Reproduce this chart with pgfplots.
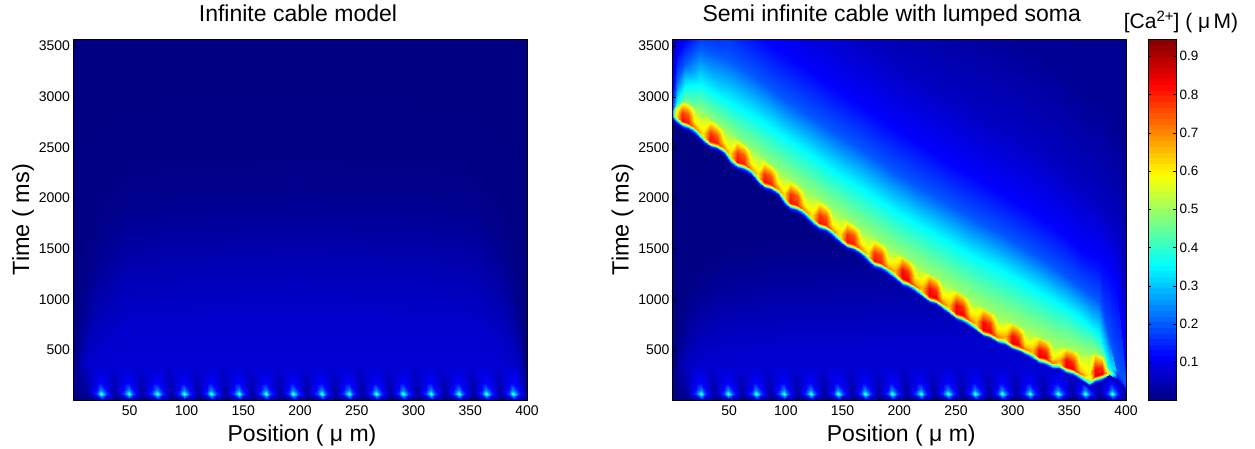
\documentclass[border=0pt]{standalone}
\usepackage{pgfplots}
\usepackage{pgfplotstable}
\pgfplotsset{compat=1.18}
\usepackage{fontspec}
\setmainfont{Liberation Sans}
% bottom row of small calcium spots (both panels): x, t, c
\pgfplotstableread{
x t c
0 0 .002
0 40 .002
0 65 .003
0 100 .005
0 170 .008
0 320 .012
13 0 .005
13 40 .012
13 65 .02
13 100 .03
13 170 .045
13 320 .06
21 0 .01
21 40 .10
21 65 .18
21 100 .13
21 170 .10
21 320 .08
25 0 .02
25 40 .26
25 65 .42
25 100 .24
25 170 .12
25 320 .082
29 0 .01
29 40 .10
29 65 .18
29 100 .13
29 170 .10
29 320 .08
37 0 .005
37 40 .012
37 65 .02
37 100 .03
37 170 .05
37 320 .075
45 0 .01
45 40 .10
45 65 .18
45 100 .13
45 170 .10
45 320 .08
49 0 .02
49 40 .26
49 65 .42
49 100 .24
49 170 .12
49 320 .082
53 0 .01
53 40 .10
53 65 .18
53 100 .13
53 170 .10
53 320 .08
61 0 .005
61 40 .012
61 65 .02
61 100 .03
61 170 .05
61 320 .075
70 0 .01
70 40 .10
70 65 .18
70 100 .13
70 170 .10
70 320 .08
74 0 .02
74 40 .26
74 65 .42
74 100 .24
74 170 .12
74 320 .082
78 0 .01
78 40 .10
78 65 .18
78 100 .13
78 170 .10
78 320 .08
86 0 .005
86 40 .012
86 65 .02
86 100 .03
86 170 .05
86 320 .075
94 0 .01
94 40 .10
94 65 .18
94 100 .13
94 170 .10
94 320 .08
98 0 .02
98 40 .26
98 65 .42
98 100 .24
98 170 .12
98 320 .082
102 0 .01
102 40 .10
102 65 .18
102 100 .13
102 170 .10
102 320 .08
110 0 .005
110 40 .012
110 65 .02
110 100 .03
110 170 .05
110 320 .075
118 0 .01
118 40 .10
118 65 .18
118 100 .13
118 170 .10
118 320 .08
122 0 .02
122 40 .26
122 65 .42
122 100 .24
122 170 .12
122 320 .082
126 0 .01
126 40 .10
126 65 .18
126 100 .13
126 170 .10
126 320 .08
134 0 .005
134 40 .012
134 65 .02
134 100 .03
134 170 .05
134 320 .075
142 0 .01
142 40 .10
142 65 .18
142 100 .13
142 170 .10
142 320 .08
146 0 .02
146 40 .26
146 65 .42
146 100 .24
146 170 .12
146 320 .082
150 0 .01
150 40 .10
150 65 .18
150 100 .13
150 170 .10
150 320 .08
158 0 .005
158 40 .012
158 65 .02
158 100 .03
158 170 .05
158 320 .075
166 0 .01
166 40 .10
166 65 .18
166 100 .13
166 170 .10
166 320 .08
170 0 .02
170 40 .26
170 65 .42
170 100 .24
170 170 .12
170 320 .082
174 0 .01
174 40 .10
174 65 .18
174 100 .13
174 170 .10
174 320 .08
182 0 .005
182 40 .012
182 65 .02
182 100 .03
182 170 .05
182 320 .075
190 0 .01
190 40 .10
190 65 .18
190 100 .13
190 170 .10
190 320 .08
194 0 .02
194 40 .26
194 65 .42
194 100 .24
194 170 .12
194 320 .082
198 0 .01
198 40 .10
198 65 .18
198 100 .13
198 170 .10
198 320 .08
206 0 .005
206 40 .012
206 65 .02
206 100 .03
206 170 .05
206 320 .075
215 0 .01
215 40 .10
215 65 .18
215 100 .13
215 170 .10
215 320 .08
219 0 .02
219 40 .26
219 65 .42
219 100 .24
219 170 .12
219 320 .082
223 0 .01
223 40 .10
223 65 .18
223 100 .13
223 170 .10
223 320 .08
231 0 .005
231 40 .012
231 65 .02
231 100 .03
231 170 .05
231 320 .075
239 0 .01
239 40 .10
239 65 .18
239 100 .13
239 170 .10
239 320 .08
243 0 .02
243 40 .26
243 65 .42
243 100 .24
243 170 .12
243 320 .082
247 0 .01
247 40 .10
247 65 .18
247 100 .13
247 170 .10
247 320 .08
255 0 .005
255 40 .012
255 65 .02
255 100 .03
255 170 .05
255 320 .075
263 0 .01
263 40 .10
263 65 .18
263 100 .13
263 170 .10
263 320 .08
267 0 .02
267 40 .26
267 65 .42
267 100 .24
267 170 .12
267 320 .082
271 0 .01
271 40 .10
271 65 .18
271 100 .13
271 170 .10
271 320 .08
279 0 .005
279 40 .012
279 65 .02
279 100 .03
279 170 .05
279 320 .075
287 0 .01
287 40 .10
287 65 .18
287 100 .13
287 170 .10
287 320 .08
291 0 .02
291 40 .26
291 65 .42
291 100 .24
291 170 .12
291 320 .082
295 0 .01
295 40 .10
295 65 .18
295 100 .13
295 170 .10
295 320 .08
303 0 .005
303 40 .012
303 65 .02
303 100 .03
303 170 .05
303 320 .075
311 0 .01
311 40 .10
311 65 .18
311 100 .13
311 170 .10
311 320 .08
315 0 .02
315 40 .26
315 65 .42
315 100 .24
315 170 .12
315 320 .082
319 0 .01
319 40 .10
319 65 .18
319 100 .13
319 170 .10
319 320 .08
328 0 .005
328 40 .012
328 65 .02
328 100 .03
328 170 .05
328 320 .075
336 0 .01
336 40 .10
336 65 .18
336 100 .13
336 170 .10
336 320 .08
340 0 .02
340 40 .26
340 65 .42
340 100 .24
340 170 .12
340 320 .082
344 0 .01
344 40 .10
344 65 .18
344 100 .13
344 170 .10
344 320 .08
352 0 .005
352 40 .012
352 65 .02
352 100 .03
352 170 .05
352 320 .075
360 0 .01
360 40 .10
360 65 .18
360 100 .13
360 170 .10
360 320 .08
364 0 .02
364 40 .26
364 65 .42
364 100 .24
364 170 .12
364 320 .082
368 0 .01
368 40 .10
368 65 .18
368 100 .13
368 170 .10
368 320 .08
376 0 .005
376 40 .012
376 65 .02
376 100 .03
376 170 .05
376 320 .075
384 0 .01
384 40 .10
384 65 .18
384 100 .13
384 170 .10
384 320 .08
388 0 .02
388 40 .26
388 65 .42
388 100 .24
388 170 .12
388 320 .082
392 0 .01
392 40 .10
392 65 .18
392 100 .13
392 170 .10
392 320 .07
400 0 .002
400 40 .002
400 65 .003
400 100 .005
400 170 .008
400 320 .012
}\spots
% faint arcs, left panel
\pgfplotstableread{
x t c
0 0 .085
0 10 .07
0 20 .05
0 30 .03
0 50 .012
0 100 .004
0 3600 .002
6 0 .085
6 200 .07
6 350 .05
6 500 .03
6 800 .012
6 1200 .004
6 3600 .002
12 0 .085
12 350 .07
12 600 .05
12 850 .03
12 1200 .012
12 1700 .004
12 3600 .002
24 0 .085
24 550 .07
24 900 .05
24 1200 .03
24 1600 .012
24 2100 .004
24 3600 .002
48 0 .085
48 750 .07
48 1200 .05
48 1550 .03
48 1950 .012
48 2400 .004
48 3600 .002
96 0 .085
96 800 .07
96 1300 .05
96 1650 .03
96 2050 .012
96 2500 .004
96 3600 .002
200 0 .085
200 850 .07
200 1350 .05
200 1700 .03
200 2100 .012
200 2550 .004
200 3600 .002
304 0 .085
304 800 .07
304 1300 .05
304 1650 .03
304 2050 .012
304 2500 .004
304 3600 .002
352 0 .085
352 750 .07
352 1200 .05
352 1550 .03
352 1950 .012
352 2400 .004
352 3600 .002
376 0 .085
376 550 .07
376 900 .05
376 1200 .03
376 1600 .012
376 2100 .004
376 3600 .002
388 0 .085
388 350 .07
388 600 .05
388 850 .03
388 1200 .012
388 1700 .004
388 3600 .002
394 0 .085
394 200 .07
394 350 .05
394 500 .03
394 800 .012
394 1200 .004
394 3600 .002
400 0 .085
400 10 .07
400 20 .05
400 30 .03
400 50 .012
400 100 .004
400 3600 .002
}\arcsL
% faint arcs, right panel
\pgfplotstableread{
x t c
0 0 .085
0 10 .07
0 20 .05
0 30 .03
0 50 .012
0 100 .004
0 3600 .002
6 0 .085
6 200 .07
6 300 .05
6 400 .03
6 600 .012
6 900 .004
6 3600 .002
12 0 .085
12 300 .07
12 450 .05
12 650 .03
12 900 .012
12 1200 .004
12 3600 .002
24 0 .085
24 400 .07
24 650 .05
24 900 .03
24 1150 .012
24 1400 .004
24 3600 .002
48 0 .085
48 500 .07
48 800 .05
48 1050 .03
48 1350 .012
48 1600 .004
48 3600 .002
96 0 .085
96 550 .07
96 850 .05
96 1150 .03
96 1450 .012
96 1700 .004
96 3600 .002
200 0 .085
200 600 .07
200 900 .05
200 1200 .03
200 1500 .012
200 1750 .004
200 3600 .002
400 0 .085
400 600 .07
400 900 .05
400 1200 .03
400 1500 .012
400 1750 .004
400 3600 .002
}\arcsR
% wake behind the wave front, right panel
\pgfplotstableread{
x t c
0 2780 .53
0 2800 .354
0 2900 .2
0 3100 .118
0 3400 .06
0 3800 .02
0 6000 .005
4 2780 .53
4 2950 .354
4 3170 .2
4 3435 .118
4 3600 .06
4 4000 .02
4 6000 .005
11 2880 .53
11 3110 .354
11 3330 .2
11 3560 .118
11 3900 .06
11 4500 .02
11 6000 .005
24 2780 .53
24 3130 .354
24 3480 .2
24 3800 .118
24 4300 .06
24 5200 .02
24 6000 .005
48 2580 .53
48 2960 .354
48 3380 .2
48 3850 .118
48 4500 .06
48 5500 .02
48 6500 .005
72 2370 .53
72 2800 .354
72 3200 .2
72 3650 .118
72 4300 .06
72 5300 .02
72 6500 .005
96 2160 .53
96 2620 .354
96 3000 .2
96 3450 .118
96 4100 .06
96 5100 .02
96 6500 .005
120 1960 .53
120 2430 .354
120 2820 .2
120 3260 .118
120 3900 .06
120 4900 .02
120 6500 .005
144 1770 .53
144 2250 .354
144 2640 .2
144 3080 .118
144 3720 .06
144 4700 .02
144 6500 .005
168 1590 .53
168 2080 .354
168 2470 .2
168 2900 .118
168 3550 .06
168 4500 .02
168 6500 .005
192 1410 .53
192 1900 .354
192 2290 .2
192 2720 .118
192 3370 .06
192 4300 .02
192 6500 .005
216 1240 .53
216 1740 .354
216 2120 .2
216 2550 .118
216 3200 .06
216 4150 .02
216 6500 .005
240 1070 .53
240 1590 .354
240 1960 .2
240 2380 .118
240 3040 .06
240 4000 .02
240 6500 .005
264 900 .53
264 1430 .354
264 1800 .2
264 2220 .118
264 2880 .06
264 3850 .02
264 6500 .005
290 740 .53
290 1290 .354
290 1640 .2
290 2050 .118
290 2720 .06
290 3700 .02
290 6500 .005
314 600 .53
314 1130 .354
314 1480 .2
314 1880 .118
314 2550 .06
314 3500 .02
314 6500 .005
338 480 .53
338 970 .354
338 1300 .2
338 1700 .118
338 2350 .06
338 3300 .02
338 6500 .005
362 400 .53
362 800 .354
362 1100 .2
362 1480 .118
362 2100 .06
362 3050 .02
362 6500 .005
376 370 .53
376 650 .354
376 980 .2
376 1400 .118
376 1950 .06
376 2950 .02
376 6500 .005
385 260 .53
385 320 .354
385 620 .2
385 1300 .118
385 1800 .06
385 2800 .02
385 6500 .005
392 200 .53
392 205 .354
392 290 .2
392 1120 .118
392 1700 .06
392 2600 .02
392 6500 .005
400 100 .53
400 103 .354
400 106 .2
400 300 .118
400 1400 .06
400 2500 .02
400 6500 .005
}\wake
% wave front with its hot spots, right panel
\pgfplotstableread{
x t c
0 2760 .02
0 2775 .08
0 2790 .15
0 2800 .25
0 2820 .3
0 2850 .3
2 2732 .03
2 2762 .14
2 2787 .4
2 2812 .55
2 2862 .55
2 2900 .42
8 2682 .03
8 2712 .18
8 2737 .58
8 2762 .82
8 2842 .78
8 2950 .56
14 2662 .03
14 2692 .18
14 2717 .58
14 2742 .80
14 2827 .74
14 2930 .57
20 2612 .03
20 2642 .16
20 2667 .42
20 2692 .70
20 2752 .6
20 2877 .50
27 2530 .03
27 2560 .16
27 2585 .42
27 2610 .6
27 2640 .62
27 2825 .50
33 2480 .03
33 2510 .18
33 2535 .58
33 2560 .82
33 2640 .78
33 2775 .56
39 2460 .03
39 2490 .18
39 2515 .58
39 2540 .80
39 2625 .74
39 2725 .57
45 2410 .03
45 2440 .16
45 2465 .42
45 2490 .70
45 2550 .6
45 2675 .50
51 2330 .03
51 2360 .16
51 2385 .42
51 2410 .6
51 2440 .62
51 2625 .50
57 2280 .03
57 2310 .18
57 2335 .58
57 2360 .82
57 2440 .78
57 2575 .56
63 2260 .03
63 2290 .18
63 2315 .58
63 2340 .80
63 2425 .74
63 2525 .57
69 2210 .03
69 2240 .16
69 2265 .42
69 2290 .70
69 2350 .6
69 2475 .50
75 2125 .03
75 2155 .16
75 2180 .42
75 2205 .6
75 2235 .62
75 2420 .50
81 2075 .03
81 2105 .18
81 2130 .58
81 2155 .82
81 2235 .78
81 2370 .56
87 2055 .03
87 2085 .18
87 2110 .58
87 2135 .80
87 2220 .74
87 2320 .57
93 2005 .03
93 2035 .16
93 2060 .42
93 2085 .70
93 2145 .6
93 2270 .50
98 1925 .03
98 1955 .16
98 1980 .42
98 2005 .6
98 2035 .62
98 2220 .50
104 1875 .03
104 1905 .18
104 1930 .58
104 1955 .82
104 2035 .78
104 2170 .56
110 1855 .03
110 1885 .18
110 1910 .58
110 1935 .80
110 2020 .74
110 2120 .57
116 1805 .03
116 1835 .16
116 1860 .42
116 1885 .70
116 1945 .6
116 2070 .50
123 1725 .03
123 1755 .16
123 1780 .42
123 1805 .6
123 1835 .62
123 2020 .50
129 1675 .03
129 1705 .18
129 1730 .58
129 1755 .82
129 1835 .78
129 1970 .56
135 1655 .03
135 1685 .18
135 1710 .58
135 1735 .80
135 1820 .74
135 1920 .57
141 1605 .03
141 1635 .16
141 1660 .42
141 1685 .70
141 1745 .6
141 1870 .50
148 1535 .03
148 1565 .16
148 1590 .42
148 1615 .6
148 1645 .62
148 1825 .50
154 1485 .03
154 1515 .18
154 1540 .58
154 1565 .82
154 1645 .78
154 1775 .56
160 1465 .03
160 1495 .18
160 1520 .58
160 1545 .80
160 1630 .74
160 1725 .57
166 1415 .03
166 1445 .16
166 1470 .42
166 1495 .70
166 1555 .6
166 1680 .50
172 1350 .03
172 1380 .16
172 1405 .42
172 1430 .6
172 1460 .62
172 1635 .50
178 1300 .03
178 1330 .18
178 1355 .58
178 1380 .82
178 1460 .78
178 1590 .56
184 1280 .03
184 1310 .18
184 1335 .58
184 1360 .80
184 1445 .74
184 1545 .57
190 1230 .03
190 1260 .16
190 1285 .42
190 1310 .70
190 1370 .6
190 1500 .50
196 1175 .03
196 1205 .16
196 1230 .45
196 1255 .64
196 1285 .66
196 1455 .52
202 1125 .03
202 1155 .2
202 1180 .6
202 1205 .84
202 1285 .82
202 1415 .6
208 1105 .03
208 1135 .2
208 1160 .6
208 1185 .84
208 1270 .78
208 1375 .6
214 1055 .03
214 1085 .16
214 1110 .45
214 1135 .72
214 1195 .62
214 1335 .5
220 1000 .03
220 1030 .16
220 1055 .45
220 1080 .64
220 1110 .66
220 1280 .52
226 950 .03
226 980 .2
226 1005 .6
226 1030 .84
226 1110 .82
226 1240 .6
232 930 .03
232 960 .2
232 985 .6
232 1010 .84
232 1095 .78
232 1200 .6
238 880 .03
238 910 .16
238 935 .45
238 960 .72
238 1020 .62
238 1160 .5
244 830 .03
244 860 .16
244 885 .45
244 910 .64
244 940 .66
244 1110 .52
250 780 .03
250 810 .2
250 835 .6
250 860 .84
250 940 .82
250 1070 .6
256 760 .03
256 790 .2
256 815 .6
256 840 .84
256 925 .78
256 1030 .6
262 710 .03
262 740 .16
262 765 .45
262 790 .72
262 850 .62
262 990 .5
268 665 .03
268 695 .16
268 720 .45
268 745 .64
268 775 .66
268 945 .52
274 615 .03
274 645 .2
274 670 .6
274 695 .84
274 775 .82
274 905 .6
280 595 .03
280 625 .2
280 650 .6
280 675 .84
280 760 .78
280 865 .6
286 545 .03
286 575 .16
286 600 .45
286 625 .72
286 685 .62
286 825 .5
293 525 .03
293 555 .16
293 580 .45
293 605 .64
293 635 .66
293 785 .52
299 485 .03
299 515 .2
299 540 .6
299 565 .84
299 635 .82
299 755 .6
305 465 .03
305 495 .2
305 520 .6
305 545 .84
305 620 .78
305 725 .6
311 425 .03
311 455 .16
311 480 .45
311 505 .72
311 545 .62
311 695 .5
317 390 .03
317 420 .16
317 445 .45
317 470 .64
317 500 .66
317 650 .52
323 350 .03
323 380 .2
323 405 .6
323 430 .84
323 500 .82
323 620 .6
329 335 .03
329 365 .2
329 390 .6
329 415 .84
329 485 .78
329 590 .6
335 295 .03
335 325 .16
335 350 .45
335 375 .72
335 410 .62
335 560 .5
341 290 .03
341 320 .16
341 345 .45
341 370 .64
341 400 .66
341 530 .52
347 255 .03
347 285 .2
347 310 .6
347 335 .84
347 400 .82
347 510 .6
353 235 .03
353 265 .2
353 290 .6
353 315 .84
353 385 .78
353 490 .6
359 185 .03
359 215 .16
359 240 .45
359 265 .72
359 310 .62
359 470 .5
367 120 .03
367 150 .14
367 175 .38
367 200 .5
367 250 .6
367 450 .52
373 165 .03
373 195 .2
373 220 .6
373 245 .84
373 310 .82
373 460 .6
379 185 .03
379 215 .2
379 240 .6
379 265 .84
379 330 .78
379 430 .58
385 220 .02
385 250 .12
385 265 .45
385 280 .6
385 300 .45
385 320 .354
392 170 .02
392 190 .05
392 210 .1
392 230 .14
392 260 .18
392 290 .2
400 80 .02
400 88 .03
400 95 .05
400 100 .08
400 105 .12
400 110 .15
}\front
\pgfplotsset{
 heat/.style={surf,shader=interp,mesh/ordering=y varies,forget plot},
 panel/.style={
  scale only axis,view={0}{90},
  xmin=0,xmax=400,ymin=0,ymax=3570,zmin=0,zmax=1,
  xtick={50,100,...,400},ytick={500,1000,...,3500},
  colormap/jet,point meta min=0,point meta max=0.945,
  tick align=inside,major tick length=3pt,tick pos=left,
  tick style={black,line width=0.35pt},
  axis line style={black,line width=0.4pt},
  ticklabel style={font=\fontsize{14}{16}\selectfont},
  /pgf/number format/assume math mode=true,
  /pgf/number format/1000 sep={},
  xticklabel style={yshift=-1.5pt},
  yticklabel style={xshift=0.5pt},
  title style={font=\fontsize{23}{27}\selectfont,at={(axis description cs:0.5,1)},anchor=base,yshift=12pt},
  xlabel style={font=\fontsize{23}{27}\selectfont,at={(axis description cs:0.5,0)},anchor=base,yshift=-41pt,xshift=2pt},
  ylabel style={font=\fontsize{23.5}{27}\selectfont,at={(axis description cs:0,0.5)},anchor=base,rotate=0,yshift=44pt},
  xlabel={Position (\ μ\ m)},ylabel={Time ( ms)},
 },
}
\begin{document}
\begin{tikzpicture}
\path[use as bounding box] (0pt,0pt) rectangle (1255pt,448pt);
\begin{axis}[panel,at={(73pt,47.5pt)},anchor=south west,width=454pt,height=361.5pt,
  title={Infinite cable model},title style={xshift=-2pt}]
\addplot3[heat,mesh/rows=7,mesh/cols=13] table[x=x,y=t,z=c] {\arcsL};
\addplot3[heat,mesh/rows=6,mesh/cols=66] table[x=x,y=t,z=c] {\spots};
\end{axis}
\begin{axis}[panel,at={(672.5pt,47.5pt)},anchor=south west,width=453.5pt,height=361.5pt,
  title={Semi infinite cable with lumped soma},
  title style={xshift=-7.5pt},
  colorbar sampled,
  colorbar style={samples=65,at={(1.0485,1)},anchor=north west,
    scale only axis,width=28pt,height=361.5pt,
    ytick={0.1,0.2,...,0.9},
    yticklabel style={font=\fontsize{13.5}{15}\selectfont,/pgf/number format/fixed,/pgf/number format/precision=1,/pgf/number format/assume math mode=true},
    tick align=inside,major tick length=3pt,
    axis line style={black,line width=0.4pt},
    title={},xlabel={},ylabel={}}]
\addplot3[heat,mesh/rows=7,mesh/cols=8] table[x=x,y=t,z=c] {\arcsR};
\addplot3[heat,mesh/rows=6,mesh/cols=66] table[x=x,y=t,z=c] {\spots};
\addplot3[heat,mesh/rows=7,mesh/cols=22] table[x=x,y=t,z=c] {\wake};
\addplot3[heat,mesh/rows=6,mesh/cols=67] table[x=x,y=t,z=c] {\front};
\end{axis}
\node[anchor=base,font=\fontsize{21}{25}\selectfont] at (1181pt,419pt) {[Ca\raisebox{7pt}{\fontsize{15}{17}\selectfont 2+}] (\ μ\,M)};
\end{tikzpicture}
\end{document}
